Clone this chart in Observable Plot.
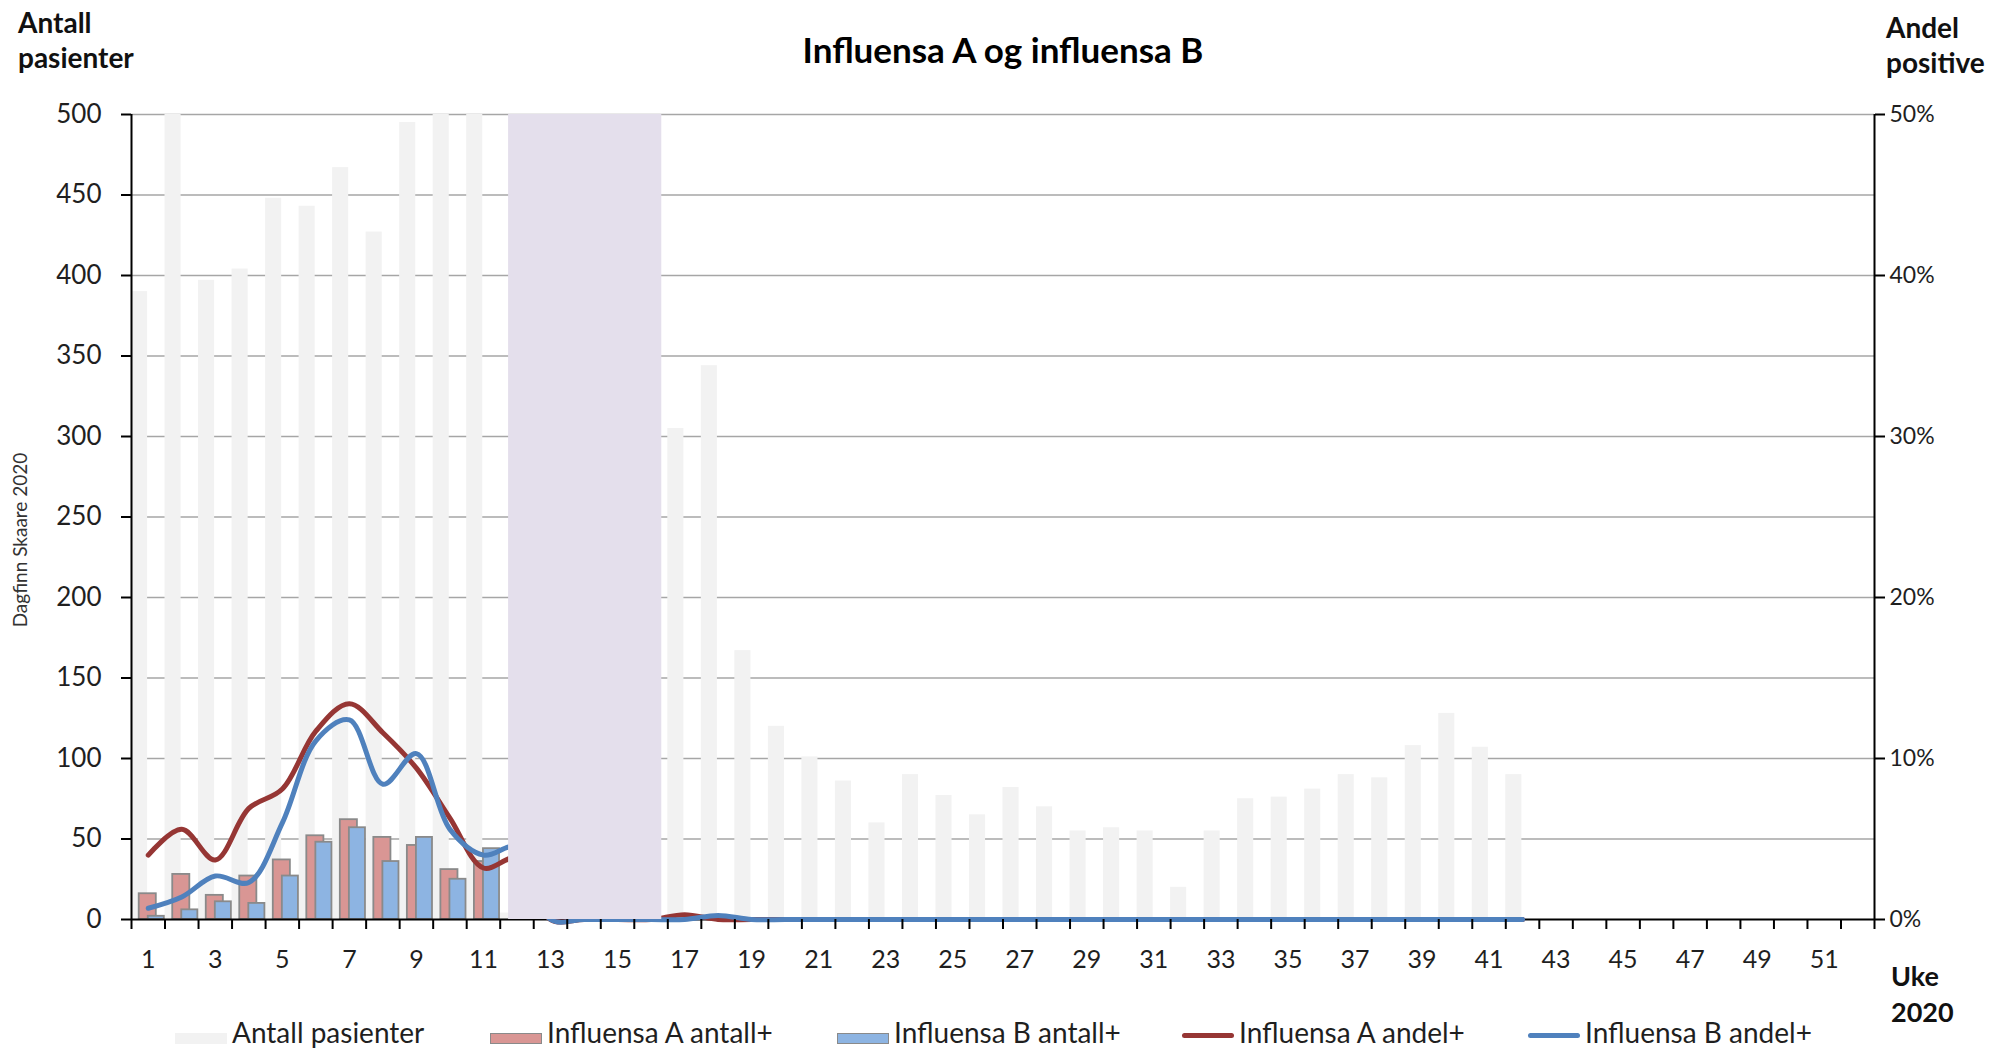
<!DOCTYPE html>
<html>
<head>
<meta charset="utf-8">
<script src="https://cdn.jsdelivr.net/npm/d3@7"></script>
<script src="https://cdn.jsdelivr.net/npm/@observablehq/plot@0.6"></script>
<style>
  html, body { margin: 0; padding: 0; background: #fff; }
  #wrap { position: relative; width: 1991px; height: 1051px; overflow: hidden;
          font-family: Lato, "Open Sans", sans-serif; color: #1f1f1f; }
  #chart { position: absolute; left: 0; top: 0; }
  .abs { position: absolute; white-space: nowrap; line-height: 1; }
  #title { left: 0; width: 2006px; text-align: center; top: 32px; font-size: 35px; font-weight: 700; color: #000; }
  .axtitle { font-size: 28px; font-weight: 700; line-height: 35px; color: #111; }
  #credit { left: 18.5px; top: 540px; font-size: 19px; color: #333;
            transform: translate(-50%, -50%) rotate(-90deg); }
  #legend { position: absolute; left: 0; top: 1000px; width: 1991px; height: 51px; }
  .item { position: absolute; top: 0; height: 51px; }
  .item .sw { position: absolute; left: 0; width: 52px; box-sizing: border-box; }
  .item .lbl { position: absolute; left: 57px; top: 18px; font-size: 28px; line-height: 1; white-space: nowrap; color: #1f1f1f; }
</style>
</head>
<body>
<div id="wrap">
  <div id="chart"></div>
  <div id="title" class="abs">Influensa A og influensa B</div>
  <div class="abs axtitle" style="left:18px;top:5px;">Antall<br>pasienter</div>
  <div class="abs axtitle" style="left:1886px;top:10px;">Andel<br>positive</div>
  <div class="abs axtitle" style="left:1891px;top:958px;line-height:36px;font-size:27px;">Uke<br>2020</div>
  <div id="credit" class="abs">Dagfinn Skaare 2020</div>
  <div id="legend"></div>
</div>
<script>
// ---- Data ----
const weeks = d3.range(1, 53);

// Antall pasienter (grey bars), weeks 1..52 (null = no bar)
const antallPasienter = [390, 520, 397, 404, 448, 443, 467, 427, 495, 515, 512, 4,
  null, null, null, null,
  305, 344, 167, 120, 101, 86, 60, 90, 77, 65, 82, 70, 55, 57, 55, 20, 55, 75, 76, 81, 90, 88, 108, 128, 107, 90,
  null, null, null, null, null, null, null, null, null, null];

// Influensa A antall+ / Influensa B antall+
const influensaAantall = [16, 28, 15, 27, 37, 52, 62, 51, 46, 31, 36];
const influensaBantall = [2, 6, 11, 10, 27, 48, 57, 36, 51, 25, 44];

// Andel positive (%), weeks 1..42
const influensaAandel = [4.0, 5.6, 3.7, 6.9, 8.1, 11.7, 13.4, 11.6, 9.4, 6.3, 3.2, 3.8,
  0, 0, 0, 0, 0.3, 0, 0, 0, 0, 0, 0, 0, 0, 0, 0, 0, 0, 0, 0, 0, 0, 0, 0, 0, 0, 0, 0, 0, 0, 0];
const influensaBandel = [0.7, 1.4, 2.7, 2.3, 6.0, 11.1, 12.4, 8.4, 10.3, 5.6, 4.0, 4.5,
  0, 0, 0, 0, 0, 0.25, 0, 0, 0, 0, 0, 0, 0, 0, 0, 0, 0, 0, 0, 0, 0, 0, 0, 0, 0, 0, 0, 0, 0, 0];

// Shaded period (week units)
const shadedPeriod = [{start: 11.75, end: 16.32}];

// Axis ticks
const leftTicks = d3.range(0, 501, 50);          // 0..500
const rightTicks = [0, 10, 20, 30, 40, 50];       // percent
const xLabelWeeks = d3.range(1, 52, 2);           // 1,3,...,51
const xBoundaries = d3.range(0.5, 53, 1);         // category boundaries

const seriesLabels = ["Antall pasienter", "Influensa A antall+", "Influensa B antall+", "Influensa A andel+", "Influensa B andel+"];
const colors = {pas: "#f2f2f2", a: "#d99694", b: "#8db4e2", la: "#963634", lb: "#4f81bd", shade: "#e4dfec", barStroke: "#8a8a8a"};

// ---- Build tables ----
const pasRows = weeks.map((w, i) => ({week: w, v: antallPasienter[i]})).filter(d => d.v != null);
const aRows = influensaAantall.map((v, i) => ({week: i + 1, v}));
const bRows = influensaBantall.map((v, i) => ({week: i + 1, v}));
const laRows = influensaAandel.map((v, i) => ({week: i + 1, v}));
const lbRows = influensaBandel.map((v, i) => ({week: i + 1, v}));
const PCT = 10; // 1% on right axis = 10 on left axis (50% <-> 500)

const plot = Plot.plot({
  width: 1991,
  height: 1000,
  marginLeft: 131,
  marginRight: 117,
  marginTop: 114,
  marginBottom: 81,
  style: {fontFamily: "Lato, 'Open Sans', sans-serif", fontSize: "26px", color: "#1f1f1f", background: "transparent", overflow: "visible"},
  x: {domain: [0.5, 52.5], axis: null},
  y: {domain: [0, 500], axis: null},
  marks: [
    Plot.ruleY(leftTicks.filter(d => d > 0), {stroke: "#a6a6a6", strokeWidth: 1.6}),
    Plot.rect(pasRows, {x1: d => d.week - 0.5, x2: d => d.week - 0.02, y1: 0, y2: "v", fill: colors.pas, clip: true}),
    Plot.rect(aRows, {x1: d => d.week - 0.27, x2: d => d.week + 0.24, y1: 0, y2: "v", fill: colors.a, stroke: colors.barStroke, strokeWidth: 1.8}),
    Plot.rect(bRows, {x1: d => d.week, x2: d => d.week + 0.48, y1: 0, y2: "v", fill: colors.b, stroke: colors.barStroke, strokeWidth: 1.8}),
    Plot.ruleY([0], {stroke: "#000", strokeWidth: 2}),
    Plot.line(laRows, {x: "week", y: d => d.v * PCT, stroke: colors.la, strokeWidth: 5, curve: "catmull-rom"}),
    Plot.line(lbRows, {x: "week", y: d => d.v * PCT, stroke: colors.lb, strokeWidth: 5, curve: "catmull-rom"}),
    Plot.rect(shadedPeriod, {x1: "start", x2: "end", y1: 0, y2: 500, fill: colors.shade}),
    Plot.ruleX([0.5, 52.5], {y1: 0, y2: 500, stroke: "#000", strokeWidth: 2}),
    Plot.axisY({anchor: "left", ticks: leftTicks, tickSize: 10, tickPadding: 20, stroke: "#000", strokeWidth: 2, fill: "#1f1f1f", label: null, tickFormat: d => d}),
    Plot.axisY({anchor: "right", ticks: rightTicks.map(p => p * PCT), tickSize: 10, tickPadding: 5, fontSize: 23, stroke: "#000", strokeWidth: 2, fill: "#1f1f1f", label: null, tickFormat: d => (d / PCT) + "%"}),
    Plot.axisX({ticks: xBoundaries, tickSize: 10, stroke: "#000", strokeWidth: 2, tickFormat: () => "", label: null}),
    Plot.axisX({ticks: xLabelWeeks, tickSize: 0, tickPadding: 31, fontSize: 25, fill: "#1f1f1f", tickFormat: d => d, label: null})
  ]
});
document.getElementById("chart").appendChild(plot);

// ---- Legend ----
const legendLeft = [175, 490, 837, 1182, 1528];
const legendKinds = [
  {type: "box", fill: colors.pas, stroke: "none"},
  {type: "box", fill: colors.a, stroke: colors.barStroke},
  {type: "box", fill: colors.b, stroke: colors.barStroke},
  {type: "line", fill: colors.la},
  {type: "line", fill: colors.lb}
];
const legend = document.getElementById("legend");
seriesLabels.forEach((label, i) => {
  const item = document.createElement("div");
  item.className = "item";
  item.style.left = legendLeft[i] + "px";
  const sw = document.createElement("div");
  sw.className = "sw";
  const k = legendKinds[i];
  if (k.type === "box") {
    sw.style.top = "33px"; sw.style.height = "11px"; sw.style.background = k.fill;
    if (k.stroke !== "none") sw.style.border = "1.5px solid " + k.stroke;
  } else {
    sw.style.top = "33px"; sw.style.height = "5px"; sw.style.background = k.fill; sw.style.borderRadius = "3px";
  }
  const lbl = document.createElement("div");
  lbl.className = "lbl";
  lbl.textContent = label;
  item.appendChild(sw); item.appendChild(lbl);
  legend.appendChild(item);
});
</script>
</body>
</html>
